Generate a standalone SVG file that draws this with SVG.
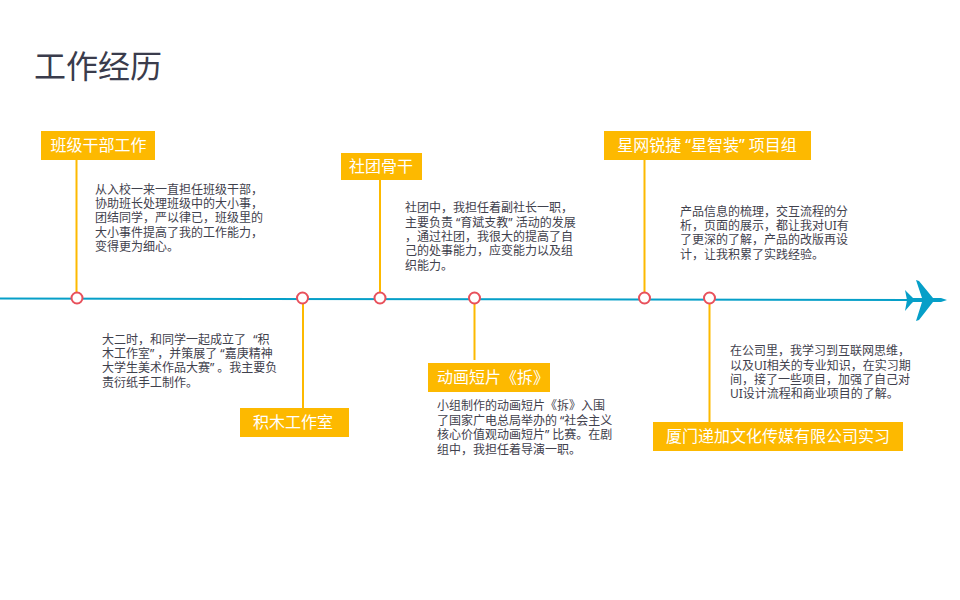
<svg xmlns="http://www.w3.org/2000/svg" width="960" height="600" viewBox="0 0 960 600">
<style>
text{font-family:"Noto Sans","Noto Sans CJK SC",sans-serif}
.t{font-size:32px;fill:#3a3c4c}
.h{font-size:16px;fill:#fff;text-anchor:middle}
.b{font-size:12px;fill:#3f414d}
.c{letter-spacing:3px}
.C{letter-spacing:4px}
.box{fill:#fdb900}
.stem{stroke:#fdb900;stroke-width:2;fill:none}
.axis{stroke:#069fc8;stroke-width:2;fill:none}
.dot{fill:#fff;stroke:#e8505b;stroke-width:2}
</style>
<rect width="960" height="600" fill="#fff"/>
<text class="t" x="34" y="78">工作经历</text>
<g id="connectors">
<path class="axis" d="M0 298.500L910 300"/>
<path class="stem" d="M76.500 160V298M303 298V408M380 180V298M474.500 298V360M644.500 160V298M709.500 298V422"/>
</g>
<g id="plane"><path fill="#069fc8" d="M905 290L911 296L913 298L922 298L916 280L919 281L933 298L941 298L947 300L941 302L933 302L919 320L916 321L922 302L913 302L911 304L905 311L907 300Z"/></g>
<g id="n1"><circle class="dot" cx="77" cy="298" r="5.500"/><rect class="box" x="41" y="131" width="114" height="29"/><text class="h" x="98.500" y="151">班级干部工作</text>
<text class="b"><tspan x="95" y="194">从入校一来一直担任班级干部&#xFF0C;</tspan><tspan x="95" y="208">协助班长处理班级中的大小事&#xFF0C;</tspan><tspan x="95" y="222">团结同学&#xFF0C;严以律已&#xFF0C;班级里的</tspan><tspan x="95" y="237">大小事件提高了我的工作能力&#xFF0C;</tspan><tspan x="95" y="251">变得更为细心。</tspan></text></g>
<g id="n2"><circle class="dot" cx="302.500" cy="298" r="5.500"/><rect class="box" x="240" y="408" width="109" height="29"/><text class="h" x="293" y="428">积木工作室</text>
<text class="b"><tspan x="102" y="344">大二时&#xFF0C;和同学一起成立了 <tspan dx="4">“</tspan>积</tspan><tspan x="102" y="358">木工作室<tspan class="c">”</tspan>&#xFF0C;并策展了<tspan dx="3">“</tspan>嘉庚精神</tspan><tspan x="102" y="372">大学生美术作品大赛<tspan class="c">”</tspan>。我主要负</tspan><tspan x="102" y="387">责衍纸手工制作。</tspan></text></g>
<g id="n3"><circle class="dot" cx="380" cy="298" r="5.500"/><rect class="box" x="341" y="153" width="81" height="27"/><text class="h" x="381" y="172">社团骨干</text>
<text class="b"><tspan x="405" y="212">社团中&#xFF0C;我担任着副社长一职&#xFF0C;</tspan><tspan x="405" y="227">主要负责<tspan dx="3">“</tspan>育斌支教<tspan class="c">”</tspan>活动的发展</tspan><tspan x="405" y="241">&#xFF0C;通过社团&#xFF0C;我很大的提高了自</tspan><tspan x="405" y="255">己的处事能力&#xFF0C;应变能力以及组</tspan><tspan x="405" y="270">织能力。</tspan></text></g>
<g id="n4"><circle class="dot" cx="474.500" cy="298" r="5.500"/><rect class="box" x="428" y="363" width="122" height="29"/><text class="h" x="493" y="383">动画短片《拆》</text>
<text class="b"><tspan x="437" y="410">小组制作的动画短片《拆》入围</tspan><tspan x="437" y="425">了国家广电总局举办的<tspan dx="3">“</tspan>社会主义</tspan><tspan x="437" y="439">核心价值观动画短片<tspan class="c">”</tspan>比赛。在剧</tspan><tspan x="437" y="454">组中&#xFF0C;我担任着导演一职。</tspan></text></g>
<g id="n5"><circle class="dot" cx="644.500" cy="298" r="5.500"/><rect class="box" x="604" y="131" width="207" height="29"/><text class="h" x="707" y="151">星网锐捷<tspan dx="4">“</tspan>星智装<tspan class="C">”</tspan>项目组</text>
<text class="b"><tspan x="680" y="216">产品信息的梳理&#xFF0C;交互流程的分</tspan><tspan x="680" y="230">析&#xFF0C;页面的展示&#xFF0C;都让我对UI有</tspan><tspan x="680" y="244">了更深的了解&#xFF0C;产品的改版再设</tspan><tspan x="680" y="259">计&#xFF0C;让我积累了实践经验。</tspan></text></g>
<g id="n6"><circle class="dot" cx="709.500" cy="298" r="5.500"/><rect class="box" x="653" y="422" width="250" height="29"/><text class="h" x="778" y="442">厦门递加文化传媒有限公司实习</text>
<text class="b"><tspan x="730" y="355">在公司里&#xFF0C;我学习到互联网思维&#xFF0C;</tspan><tspan x="730" y="370">以及UI相关的专业知识&#xFF0C;在实习期</tspan><tspan x="730" y="384">间&#xFF0C;接了一些项目&#xFF0C;加强了自己对</tspan><tspan x="730" y="398">UI设计流程和商业项目的了解。</tspan></text></g>
</svg>
